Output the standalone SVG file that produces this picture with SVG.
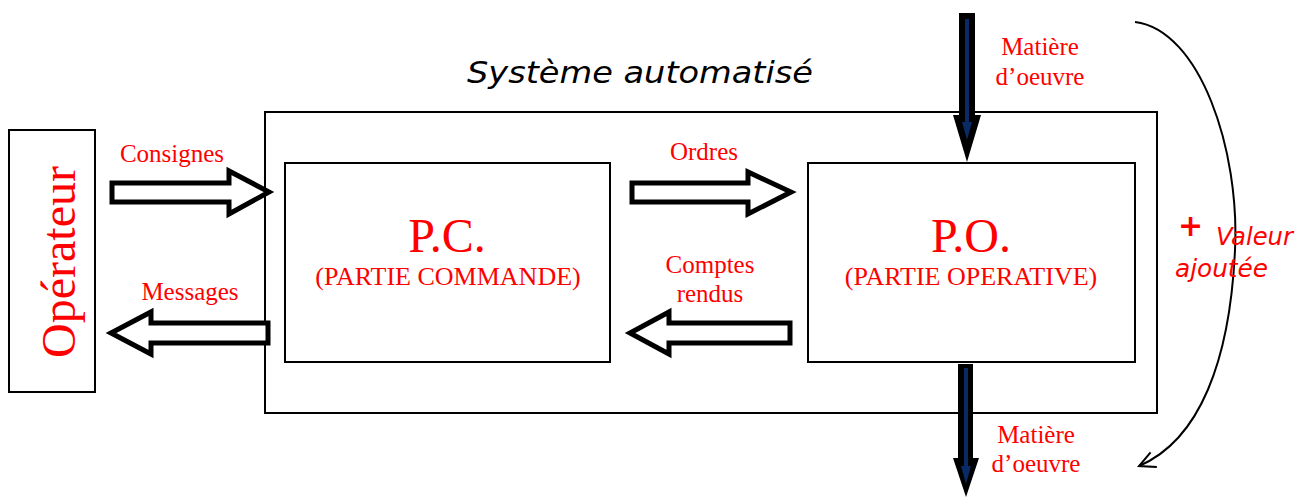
<svg xmlns="http://www.w3.org/2000/svg" width="1304" height="497" viewBox="0 0 1304 497">
  <style>
    .box { fill: #fff; stroke: #000; stroke-width: 2; }
    .lbl { font-family: "Liberation Serif", "Times New Roman", serif; fill: #ff0000; font-size: 25px; text-anchor: middle; }
    .sub { font-family: "Liberation Serif", "Times New Roman", serif; fill: #ff0000; font-size: 26px; text-anchor: middle; }
    .big { font-family: "Liberation Serif", "Times New Roman", serif; fill: #ff0000; font-size: 48px; text-anchor: middle; }
    .hand { font-family: "DejaVu Sans", "Noto Sans", sans-serif; font-style: italic; }
    .hollow { fill: #fff; stroke: #000; stroke-width: 5; stroke-linejoin: miter; }
  </style>
  <defs>
    <marker id="open" viewBox="0 0 20 20" refX="18" refY="10" markerWidth="20" markerHeight="20" markerUnits="userSpaceOnUse" orient="auto">
      <path d="M2,2 L18,10 L2,18" fill="none" stroke="#000" stroke-width="2"/>
    </marker>
  </defs>
  <rect width="1304" height="497" fill="#fff"/>

  <!-- Title -->
  <text x="640" y="83" class="hand" font-size="30" fill="#000" text-anchor="middle" textLength="346" lengthAdjust="spacingAndGlyphs">Système automatisé</text>

  <!-- System enclosure -->
  <g id="systeme">
    <rect x="265" y="112" width="892" height="301" class="box"/>
  </g>

  <!-- Operator -->
  <g id="operateur">
    <rect x="9" y="130" width="86" height="262" class="box"/>
    <text class="big" transform="translate(75,262) rotate(-90)">Opérateur</text>
  </g>

  <!-- Control part -->
  <g id="pc">
    <rect x="285" y="163" width="325" height="199" class="box"/>
    <text x="447" y="252" class="big">P.C.</text>
    <text x="448" y="285" class="sub">(PARTIE COMMANDE)</text>
  </g>

  <!-- Operative part -->
  <g id="po">
    <rect x="808" y="163" width="327" height="199" class="box"/>
    <text x="971" y="252" class="big">P.O.</text>
    <text x="971" y="285" class="sub">(PARTIE OPERATIVE)</text>
  </g>

  <g id="connecteurs">
    <!-- Consignes -->
    <path class="hollow" d="M112,183 L229,183 L229,171 L269,192 L229,214 L229,202 L112,202 Z"/>
    <!-- Messages -->
    <path class="hollow" d="M268,323 L151,323 L151,312 L111,333 L151,354 L151,343 L268,343 Z"/>
    <!-- Ordres -->
    <path class="hollow" d="M632,183 L748,183 L748,172 L791,192 L748,214 L748,202 L632,202 Z"/>
    <!-- Comptes rendus -->
    <path class="hollow" d="M790,323 L669,323 L669,312 L630,333 L669,354 L669,343 L790,343 Z"/>

    <!-- Raw material in -->
    <path d="M959,13 L975,13 L975,115 L981,115 L967,162 L953,115 L959,115 Z" fill="#000"/>
    <path d="M965,19 L969,19 L969,122 L972,122 L967,140 L962,122 L965,122 Z" fill="#0a2a66"/>
    <!-- Raw material out -->
    <path d="M958,364 L973,364 L973,458 L979,458 L966,497 L953,458 L958,458 Z" fill="#000"/>
    <path d="M964,368 L968,368 L968,466 L971,466 L966,484 L961,466 L964,466 Z" fill="#0a2a66"/>

    <!-- Added value curve -->
    <path d="M1135,22 C1200,30 1240,150 1235,250 C1230,360 1200,440 1139,466" fill="none" stroke="#000" stroke-width="2" marker-end="url(#open)"/>
  </g>

  <!-- Flow labels -->
  <text x="172" y="162" class="lbl">Consignes</text>
  <text x="190" y="300" class="lbl">Messages</text>
  <text x="704" y="160" class="lbl">Ordres</text>
  <text x="710" y="273" class="lbl">Comptes</text>
  <text x="710" y="302" class="lbl">rendus</text>
  <text x="1040" y="55" class="lbl">Matière</text>
  <text x="1040" y="85" class="lbl">d’oeuvre</text>
  <text x="1036" y="443" class="lbl">Matière</text>
  <text x="1036" y="472" class="lbl">d’oeuvre</text>

  <!-- Added value -->
  <text x="1178" y="236" font-family="DejaVu Sans, sans-serif" font-size="30" font-weight="bold" fill="#ff0000">+</text>
  <text x="1216" y="245" class="hand" font-size="24" fill="#ff0000" textLength="77" lengthAdjust="spacingAndGlyphs">Valeur</text>
  <text x="1175" y="277" class="hand" font-size="24" fill="#ff0000" textLength="93" lengthAdjust="spacingAndGlyphs">ajoutée</text>
</svg>
